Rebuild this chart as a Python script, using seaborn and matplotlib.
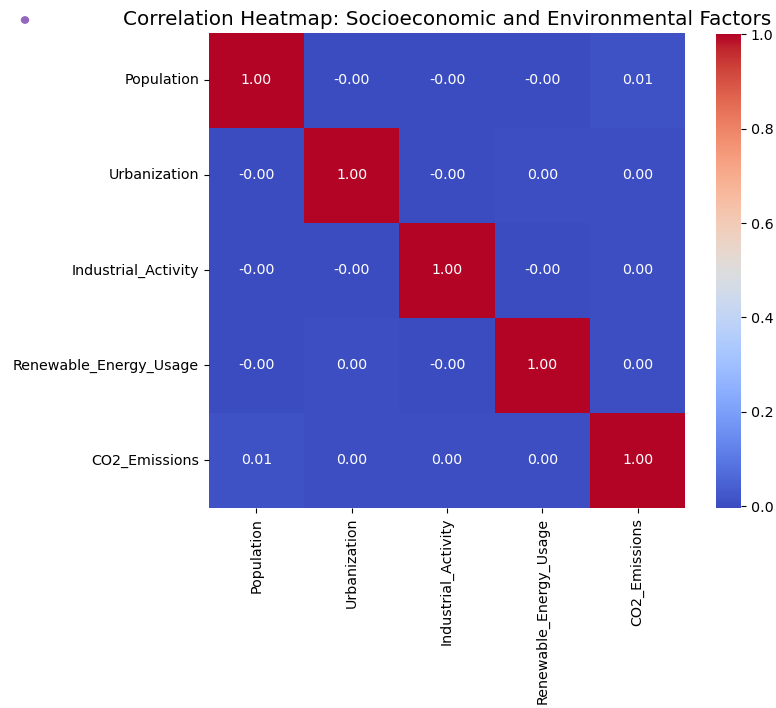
import numpy as np
import pandas as pd
import matplotlib
matplotlib.use("Agg")
import matplotlib.pyplot as plt
import seaborn as sns
from matplotlib.patches import Circle

# factor names
factors = ["Population", "Urbanization", "Industrial_Activity",
           "Renewable_Energy_Usage", "CO2_Emissions"]

# correlation rows
population = [1.000, -0.002, -0.003, -0.001, 0.008]
urbanization = [-0.002, 1.000, -0.004, 0.002, 0.001]
industrial = [-0.003, -0.004, 1.000, -0.002, 0.003]
renewable = [-0.001, 0.002, -0.002, 1.000, 0.001]
co2 = [0.008, 0.001, 0.003, 0.001, 1.000]

corr = pd.DataFrame([population, urbanization, industrial, renewable, co2],
                    index=factors, columns=factors)

fig = plt.figure(figsize=(7.76, 7.08), dpi=100)
ax = fig.add_axes([0.269, 0.2825, 0.614, 0.671])
cax = fig.add_axes([0.9227, 0.2825, 0.032, 0.669])

sns.heatmap(corr, annot=True, fmt=".2f", cmap="coolwarm", ax=ax, cbar_ax=cax,
            annot_kws={"size": 10.2})

ax.set_title("Correlation Heatmap: Socioeconomic and Environmental Factors",
             fontsize=14.4, pad=6)
ax.tick_params(labelsize=10.3)
plt.setp(ax.get_xticklabels(), rotation=90)
plt.setp(ax.get_yticklabels(), rotation=0)
cax.tick_params(labelsize=10.3)

# small purple dot in the top-left corner
fig.add_artist(Circle((25 / 776, 1 - 20 / 708), 0.0045, transform=fig.transFigure,
                      color="#9467bd"))

fig.savefig("out.png", dpi=100)
